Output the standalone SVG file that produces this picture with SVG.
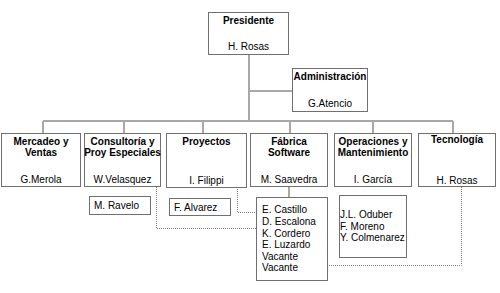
<svg xmlns="http://www.w3.org/2000/svg" width="500" height="293" viewBox="0 0 500 293">
<style>
.box{fill:#fff;stroke:#707070;stroke-width:1}
.t{font-family:"Liberation Sans",Arial,sans-serif;font-size:10px;fill:#000}
.b{font-weight:bold}
.c{text-anchor:middle}
.ln{fill:none;stroke:#a8a8a8;stroke-width:2}
.dot{fill:none;stroke:#808080;stroke-width:1;stroke-dasharray:1,1}
</style>
<rect width="500" height="293" fill="#fff"/>
<g id="connectors">
<path class="ln" d="M249 54V121M249 91H292M43 121H453M43 121V133M124 121V133M203 121V133M290 121V133M373 121V133M453 121V133M289 187V197"/>
<path class="dot" d="M156.5 187V228.5H256M237.5 187V212.5H256M461.5 187V265.5H327"/>
</g>
<g id="presidente"><rect class="box" x="208.5" y="12.5" width="80" height="42"/><text class="t b c" x="248.5" y="24">Presidente</text><text class="t c" x="248.5" y="50">H. Rosas</text></g>
<g id="administracion"><rect class="box" x="292.5" y="68.5" width="75" height="43"/><text class="t b c" x="330" y="80">Administración</text><text class="t c" x="330" y="107">G.Atencio</text></g>
<g id="mercadeo"><rect class="box" x="1.5" y="133.5" width="79" height="53"/><text class="t b c" x="41" y="145">Mercadeo y</text><text class="t b c" x="41" y="156">Ventas</text><text class="t c" x="41" y="183">G.Merola</text></g>
<g id="consultoria"><rect class="box" x="84.5" y="133.5" width="76" height="53"/><text class="t b c" x="122.5" y="145">Consultoría y</text><text class="t b c" x="122.5" y="156">Proy Especiales</text><text class="t c" x="122.5" y="183">W.Velasquez</text></g>
<g id="proyectos"><rect class="box" x="166.5" y="133.5" width="80" height="54"/><text class="t b c" x="206.5" y="145">Proyectos</text><text class="t c" x="206.5" y="184">I. Filippi</text></g>
<g id="fabrica"><rect class="box" x="250.5" y="133.5" width="77" height="53"/><text class="t b c" x="289" y="145">Fábrica</text><text class="t b c" x="289" y="156">Software</text><text class="t c" x="289" y="183">M. Saavedra</text></g>
<g id="operaciones"><rect class="box" x="334.5" y="133.5" width="77" height="53"/><text class="t b c" x="373" y="145">Operaciones y</text><text class="t b c" x="373" y="156">Mantenimiento</text><text class="t c" x="373" y="183">I. García</text></g>
<g id="tecnologia"><rect class="box" x="418.5" y="133.5" width="77" height="53"/><text class="t b c" x="457" y="143">Tecnología</text><text class="t c" x="457" y="184">H. Rosas</text></g>
<g id="ravelo"><rect class="box" x="89.5" y="196.5" width="61" height="18"/><text class="t" x="94" y="209">M. Ravelo</text></g>
<g id="alvarez"><rect class="box" x="169.5" y="198.5" width="61" height="17"/><text class="t" x="174" y="211">F. Alvarez</text></g>
<g id="fabrica-team"><rect class="box" x="256.5" y="197.5" width="71" height="83"/>
<text class="t" x="262" y="213">E. Castillo</text><text class="t" x="262" y="225">D. Escalona</text><text class="t" x="262" y="237">K. Cordero</text><text class="t" x="262" y="248">E. Luzardo</text><text class="t" x="262" y="260">Vacante</text><text class="t" x="262" y="271">Vacante</text></g>
<g id="operaciones-team"><rect class="box" x="339.5" y="195.5" width="67" height="62"/>
<text class="t" x="340" y="218">J.L. Oduber</text><text class="t" x="340" y="230">F. Moreno</text><text class="t" x="340" y="241">Y. Colmenarez</text></g>
</svg>
